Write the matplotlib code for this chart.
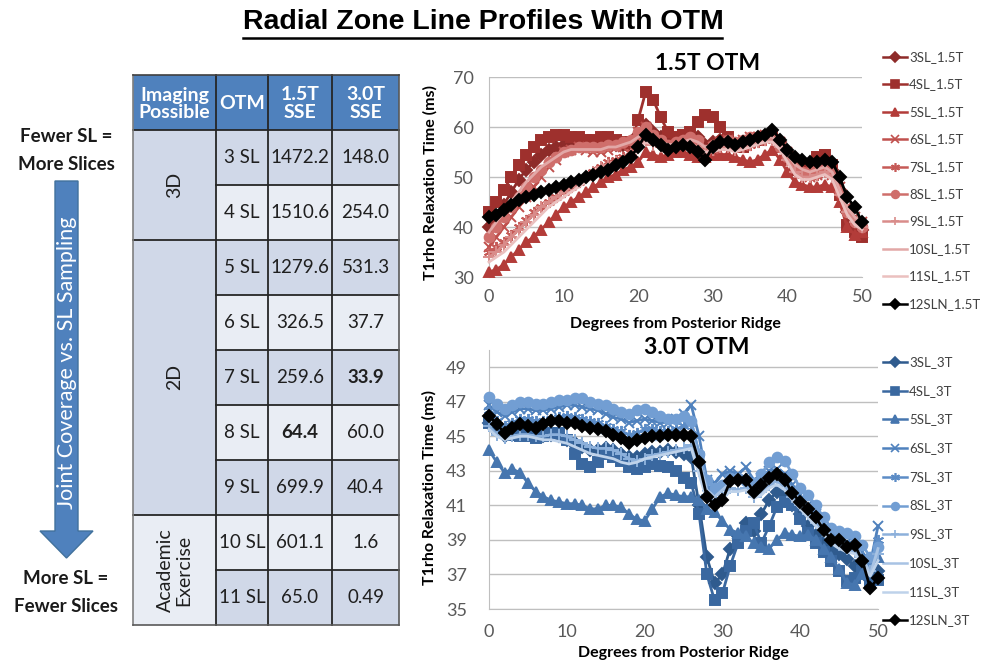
import matplotlib
matplotlib.use('Agg')
import matplotlib.pyplot as plt
from matplotlib.patches import Rectangle, FancyArrow

plt.rcParams['font.family'] = ['Lato', 'DejaVu Sans']

# ---------------- data ----------------
degrees = list(range(51))
x_ticks = [0, 10, 20, 30, 40, 50]
y_ticks_15 = [30, 40, 50, 60, 70]
y_ticks_30 = [35, 37, 39, 41, 43, 45, 47, 49]

names_15 = ['3SL_1.5T', '4SL_1.5T', '5SL_1.5T', '6SL_1.5T', '7SL_1.5T',
            '8SL_1.5T', '9SL_1.5T', '10SL_1.5T', '11SL_1.5T', '12SLN_1.5T']
names_30 = ['3SL_3T', '4SL_3T', '5SL_3T', '6SL_3T', '7SL_3T',
            '8SL_3T', '9SL_3T', '10SL_3T', '11SL_3T', '12SLN_3T']

t15_3SL = [40.0, 42.0, 44.5, 47.0, 49.5, 51.5, 53.0, 54.5, 55.5, 56.0, 56.5, 56.5, 56.5, 56.5, 56.5, 56.5, 57.0,
           56.5, 56.5, 57.0, 58.5, 60.5, 59.0, 58.0, 57.0, 57.5, 58.0, 58.5, 58.0, 56.5, 57.0, 57.5, 57.0, 56.5,
           56.5, 57.0, 57.5, 58.0, 58.5, 57.0, 55.0, 53.0, 52.0, 51.5, 52.0, 52.5, 51.5, 47.5, 43.0, 41.0, 39.5]
t15_4SL = [43.0, 45.0, 47.5, 50.0, 52.5, 54.5, 56.0, 57.5, 58.0, 58.5, 58.5, 58.0, 58.0, 57.5, 57.5, 58.0, 58.0,
           57.5, 57.0, 56.5, 61.5, 67.0, 65.5, 62.0, 59.0, 58.0, 58.5, 59.0, 61.0, 62.5, 62.0, 60.0, 58.0, 56.5,
           56.0, 57.0, 57.5, 58.0, 58.5, 56.0, 53.5, 51.5, 51.0, 52.5, 54.0, 54.5, 52.5, 46.5, 40.5, 39.0, 38.0]
t15_5SL = [31.0, 31.5, 32.5, 34.0, 35.5, 37.0, 38.0, 39.5, 41.0, 42.5, 44.0, 45.0, 46.0, 47.0, 48.0, 49.0, 50.0,
           50.5, 51.5, 52.0, 53.0, 55.0, 54.5, 54.0, 54.5, 55.0, 55.0, 54.5, 54.0, 54.0, 54.5, 54.5, 54.5, 54.0,
           53.5, 53.0, 53.5, 54.5, 55.5, 53.5, 51.0, 49.0, 48.5, 48.0, 48.0, 48.5, 48.0, 45.0, 40.0, 38.5, 39.0]
t15_6SL = [36.0, 38.0, 40.0, 42.0, 44.0, 46.0, 48.0, 50.0, 52.0, 53.5, 55.0, 55.5, 56.0, 55.5, 55.0, 55.0, 55.5,
           56.0, 56.0, 57.0, 59.0, 60.0, 58.0, 57.0, 56.0, 56.5, 57.0, 57.5, 57.0, 55.0, 56.0, 57.0, 57.5, 57.0,
           57.5, 58.0, 58.0, 58.5, 58.5, 57.0, 55.0, 52.0, 51.0, 50.0, 50.5, 51.0, 50.5, 48.0, 44.0, 42.0, 41.0]
t15_7SL = [35.0, 36.0, 37.0, 38.5, 40.0, 41.5, 43.0, 44.0, 45.0, 46.0, 47.0, 48.0, 49.0, 50.0, 51.0, 52.0, 53.0,
           53.5, 54.0, 55.0, 57.0, 59.0, 58.0, 57.0, 56.0, 56.5, 57.0, 57.0, 56.5, 55.0, 55.5, 56.0, 56.5, 56.0,
           56.0, 56.5, 57.0, 57.5, 58.0, 56.5, 54.0, 51.5, 50.5, 50.0, 50.5, 51.0, 50.5, 47.0, 43.0, 41.0, 40.0]
t15_8SL = [38.0, 40.0, 42.0, 44.0, 46.0, 48.0, 50.0, 51.5, 53.0, 54.0, 55.0, 55.5, 56.0, 56.0, 56.0, 56.0, 56.5,
           56.5, 57.0, 57.5, 59.0, 60.0, 58.5, 57.5, 56.5, 57.0, 57.5, 58.0, 57.5, 55.5, 56.5, 57.0, 57.5, 57.0,
           57.5, 58.0, 58.0, 58.5, 58.0, 56.0, 54.0, 52.0, 51.0, 51.0, 51.5, 52.0, 51.0, 47.0, 43.0, 41.0, 40.0]
t15_9SL = [34.0, 35.0, 36.5, 38.0, 39.5, 41.0, 42.5, 44.0, 45.0, 46.0, 47.0, 48.0, 49.0, 50.0, 51.0, 52.0, 52.5,
           53.0, 53.5, 54.5, 56.0, 57.5, 56.5, 56.0, 55.5, 56.0, 56.5, 56.5, 56.0, 55.0, 55.5, 56.0, 56.0, 55.5,
           56.0, 56.5, 57.0, 57.5, 57.5, 56.0, 53.5, 51.0, 50.0, 50.0, 50.5, 51.0, 50.0, 46.5, 43.0, 41.0, 40.0]
t15_10SL = [39.0, 41.0, 43.0, 45.0, 47.0, 49.0, 50.5, 52.0, 53.0, 54.0, 55.0, 55.5, 55.5, 55.5, 55.5, 55.5, 56.0,
            56.0, 56.5, 57.0, 58.0, 59.0, 58.0, 57.0, 56.5, 56.5, 57.0, 57.5, 57.0, 56.0, 56.5, 57.0, 57.0, 57.0,
            57.0, 57.5, 58.0, 58.0, 58.0, 56.5, 54.5, 52.5, 51.5, 51.0, 51.5, 52.0, 51.0, 47.5, 44.0, 42.0, 41.0]
t15_11SL = [33.0, 34.0, 35.0, 36.5, 38.0, 39.5, 41.0, 42.5, 44.0, 45.0, 46.0, 47.0, 48.0, 49.0, 50.0, 51.0, 52.0,
            52.5, 53.0, 54.0, 55.5, 57.0, 56.5, 56.0, 55.5, 55.5, 56.0, 56.0, 55.5, 55.0, 55.0, 55.5, 55.5, 55.0,
            55.5, 56.0, 56.5, 57.0, 57.0, 55.5, 53.0, 50.5, 49.5, 49.5, 50.0, 50.5, 49.5, 46.0, 42.5, 40.5, 39.5]
t15_12SLN = [42.0, 42.5, 43.5, 44.5, 45.5, 46.0, 46.5, 47.0, 47.5, 48.0, 48.5, 49.0, 49.5, 50.0, 50.5, 51.0, 51.5,
             52.5, 53.0, 54.0, 56.0, 58.5, 57.5, 56.5, 55.5, 56.0, 56.5, 56.0, 55.0, 53.5, 56.0, 57.0, 57.0, 56.5,
             57.0, 57.5, 58.0, 58.5, 59.5, 57.5, 55.5, 54.0, 53.5, 53.0, 53.0, 53.5, 53.0, 50.0, 46.0, 44.0, 41.0]

t30_3SL = [45.8, 45.3, 45.0, 45.2, 45.3, 45.2, 45.0, 45.0, 45.1, 45.0, 44.8, 44.6, 44.4, 44.2, 44.2, 44.3, 44.2,
           44.0, 43.8, 43.8, 44.0, 44.1, 44.1, 44.2, 44.1, 44.0, 43.8, 41.0, 38.0, 36.5, 37.0, 38.5, 39.2, 40.0,
           39.5, 40.5, 41.3, 41.8, 41.6, 41.0, 40.5, 39.8, 39.3, 38.9, 38.5, 38.2, 37.9, 37.5, 37.2, 36.7, 37.2]
t30_4SL = [45.8, 45.5, 45.2, 45.1, 45.0, 45.0, 44.9, 45.0, 45.2, 45.2, 44.8, 44.0, 43.4, 43.2, 43.5, 44.0, 43.8,
           43.6, 43.2, 43.1, 43.2, 43.4, 43.3, 43.2, 43.0, 42.6, 42.3, 40.5, 37.0, 35.5, 35.9, 37.5, 38.8, 39.5,
           40.0, 38.8, 39.8, 40.9, 41.2, 41.0, 40.2, 39.4, 38.8, 38.3, 37.8, 37.2, 36.6, 36.8, 37.2, 36.6, 36.7]
t30_5SL = [44.2, 43.5, 42.9, 43.1, 42.9, 42.3, 41.8, 41.5, 41.3, 41.2, 41.1, 41.1, 41.0, 40.8, 40.8, 41.0, 41.0,
           40.9, 40.5, 40.2, 40.1, 40.8, 41.5, 41.7, 41.6, 41.5, 41.5, 41.3, 40.8, 40.6, 40.1, 39.6, 39.4, 39.2,
           38.8, 38.6, 38.5, 39.0, 39.4, 39.3, 39.2, 39.3, 39.0, 38.5, 38.0, 37.3, 36.5, 36.4, 37.0, 37.8, 38.0]
t30_6SL = [46.8, 46.4, 46.2, 46.4, 46.6, 46.6, 46.5, 46.5, 46.6, 46.7, 46.8, 46.8, 46.7, 46.6, 46.5, 46.3, 46.1,
           46.0, 45.8, 45.9, 46.0, 45.9, 45.8, 45.8, 46.0, 46.3, 46.8, 45.0, 42.5, 42.3, 42.8, 43.0, 42.8, 43.2,
           42.5, 42.6, 43.0, 43.1, 42.8, 42.2, 41.6, 41.0, 40.5, 40.0, 39.4, 39.1, 38.9, 38.8, 38.3, 37.6, 39.8]
t30_7SL = [46.5, 45.9, 45.6, 45.8, 46.0, 46.0, 45.9, 45.9, 46.0, 46.1, 46.2, 46.1, 46.0, 45.9, 45.8, 45.6, 45.4,
           45.3, 45.1, 45.2, 45.4, 45.4, 45.3, 45.3, 45.4, 45.6, 45.8, 44.0, 42.0, 41.8, 42.2, 42.6, 42.5, 42.6,
           42.0, 42.3, 42.7, 42.9, 42.5, 41.9, 41.3, 40.8, 40.3, 39.7, 39.2, 38.9, 38.7, 38.6, 38.0, 37.4, 39.0]
t30_8SL = [47.3, 46.9, 46.6, 46.8, 47.0, 47.0, 46.9, 46.9, 47.0, 47.1, 47.1, 47.2, 47.2, 47.0, 46.9, 46.8, 46.6,
           46.4, 46.3, 46.5, 46.6, 46.4, 46.2, 46.0, 46.0, 46.2, 45.9, 44.0, 42.5, 42.0, 42.2, 42.6, 42.6, 42.4,
           42.3, 42.8, 43.5, 43.8, 43.6, 42.8, 42.0, 41.6, 41.0, 40.3, 39.7, 39.5, 39.4, 39.2, 38.7, 38.0, 38.6]
t30_9SL = [45.6, 45.1, 44.9, 45.0, 45.1, 45.1, 45.0, 45.0, 45.1, 45.1, 45.0, 44.8, 44.6, 44.4, 44.3, 44.3, 44.2,
           44.0, 43.7, 43.6, 43.7, 43.9, 44.0, 44.1, 44.2, 44.3, 44.5, 43.0, 41.6, 41.2, 41.6, 42.0, 41.9, 42.0,
           41.5, 41.8, 42.2, 42.4, 42.1, 41.5, 41.0, 40.5, 40.0, 39.5, 39.0, 38.7, 38.5, 38.3, 37.8, 37.2, 38.2]
t30_10SL = [46.0, 45.6, 45.3, 45.5, 45.7, 45.7, 45.6, 45.6, 45.7, 45.8, 45.8, 45.7, 45.6, 45.4, 45.3, 45.1, 44.9,
            44.8, 44.5, 44.6, 44.8, 44.8, 44.8, 44.9, 45.0, 45.1, 45.2, 43.6, 41.9, 41.5, 41.9, 42.3, 42.3, 42.4,
            41.9, 42.1, 42.5, 42.7, 42.4, 41.8, 41.3, 40.8, 40.3, 39.7, 39.2, 39.0, 38.7, 38.6, 38.0, 37.0, 38.5]
t30_11SL = [45.4, 45.0, 44.8, 44.9, 45.0, 45.0, 44.9, 44.8, 44.8, 44.7, 44.6, 44.4, 44.2, 44.0, 43.9, 43.8, 43.7,
            43.5, 43.4, 43.5, 43.7, 43.8, 43.9, 44.0, 44.1, 44.2, 44.3, 42.8, 41.3, 41.0, 41.4, 41.8, 41.8, 41.9,
            41.4, 41.6, 42.0, 42.2, 41.9, 41.3, 40.8, 40.3, 39.8, 39.3, 38.8, 38.5, 38.3, 38.2, 37.6, 36.9, 37.8]
t30_12SLN = [46.2, 45.7, 45.2, 45.5, 45.7, 45.6, 45.5, 45.7, 45.9, 45.9, 45.8, 45.8, 45.6, 45.5, 45.4, 45.3, 45.1,
             44.9, 44.6, 44.8, 44.9, 45.0, 45.0, 45.1, 45.1, 45.1, 45.0, 43.5, 41.5, 41.0, 41.3, 42.4, 42.5, 42.5,
             41.8, 42.2, 42.6, 42.8, 42.5, 41.7, 41.2, 40.8, 40.3, 39.6, 39.0, 39.0, 38.6, 38.7, 37.8, 36.2, 36.8]

series_15 = [t15_3SL, t15_4SL, t15_5SL, t15_6SL, t15_7SL, t15_8SL, t15_9SL, t15_10SL, t15_11SL, t15_12SLN]
series_30 = [t30_3SL, t30_4SL, t30_5SL, t30_6SL, t30_7SL, t30_8SL, t30_9SL, t30_10SL, t30_11SL, t30_12SLN]

# table
imaging_groups = ['3D', '2D', 'Academic\nExercise']
imaging_spans = [2, 5, 2]
otm_labels = ['3 SL', '4 SL', '5 SL', '6 SL', '7 SL', '8 SL', '9 SL', '10 SL', '11 SL']
sse_15 = ['1472.2', '1510.6', '1279.6', '326.5', '259.6', '64.4', '699.9', '601.1', '65.0']
sse_30 = ['148.0', '254.0', '531.3', '37.7', '33.9', '60.0', '40.4', '1.6', '0.49']
header_labels = ['Imaging\nPossible', 'OTM', '1.5T\nSSE', '3.0T\nSSE']
bold_15 = [False, False, False, False, False, True, False, False, False]
bold_30 = [False, False, False, False, True, False, False, False, False]

# ---------------- styles ----------------
reds = ['#8E2B29', '#9E302D', '#B33C39', '#C0504D', '#C65A57', '#CF6E6B', '#D98C8A', '#E2A8A7', '#EBC0BF', '#000000']
blues = ['#2F5B8E', '#3A68A0', '#4676AF', '#4F81BD', '#5C8CC6', '#729ED3', '#8CB0DB', '#A8C3E4', '#BED2EA', '#000000']
markers = ['D', 's', '^', 'x', (6, 2, 0), 'o', '+', None, None, 'D']
msizes = [6, 7, 7, 7, 8, 7, 8, 0, 0, 6]

fig = plt.figure(figsize=(9.88, 6.65), dpi=100)
ov = fig.add_axes([0, 0, 1, 1])
ov.set_xlim(0, 988)
ov.set_ylim(665, 0)
ov.axis('off')

# title
ov.text(483, 22, 'Radial Zone Line Profiles With OTM', ha='center', va='center',
        fontsize=20.5, fontweight='bold', family=['Liberation Sans Narrow', 'Liberation Sans', 'DejaVu Sans'])
ov.plot([243, 722], [38, 38], color='black', lw=1.8)

# left side texts + arrow
ov.text(66, 137, 'Fewer SL =', ha='center', va='center', fontsize=13.5, fontweight='bold', color='#1a1a1a')
ov.text(66, 164, 'More Slices', ha='center', va='center', fontsize=13.5, fontweight='bold', color='#1a1a1a')
ov.text(66, 579, 'More SL =', ha='center', va='center', fontsize=13.5, fontweight='bold', color='#1a1a1a')
ov.text(66, 607, 'Fewer Slices', ha='center', va='center', fontsize=13.5, fontweight='bold', color='#1a1a1a')
ov.add_patch(FancyArrow(66.5, 181, 0, 377, width=23, head_width=53, head_length=27,
                        length_includes_head=True, fc='#4F81BD', ec='#41719C', lw=1))
ov.text(67, 363, 'Joint Coverage vs. SL Sampling', rotation=90, ha='center', va='center',
        fontsize=15.5, color='white')

# table
cx = [133, 216, 268, 332, 399]
top, hbot, rh = 75, 130, 55.0
dark, light = '#D0D8E8', '#E9EDF4'
line_c = '#262626'
ov.add_patch(Rectangle((cx[0], top), cx[-1] - cx[0], hbot - top, fc='#4F81BD', ec='none'))
for j, lab in enumerate(header_labels):
    ov.text((cx[j] + cx[j + 1]) / 2, (top + hbot) / 2 + 1, lab, ha='center', va='center',
            color='white', fontweight='bold', fontsize=14, linespacing=1.0)
for i in range(len(otm_labels)):
    y0 = hbot + i * rh
    fc = dark if i % 2 == 0 else light
    ov.add_patch(Rectangle((cx[1], y0), cx[-1] - cx[1], rh, fc=fc, ec='none'))
    yc = y0 + rh / 2
    ov.text((cx[1] + cx[2]) / 2, yc, otm_labels[i], ha='center', va='center', fontsize=13.5, color='#1f1f1f')
    ov.text((cx[2] + cx[3]) / 2, yc, sse_15[i], ha='center', va='center', fontsize=13.5, color='#1f1f1f',
            fontweight='bold' if bold_15[i] else 'normal')
    ov.text((cx[3] + cx[4]) / 2, yc, sse_30[i], ha='center', va='center', fontsize=13.5, color='#1f1f1f',
            fontweight='bold' if bold_30[i] else 'normal')
    ov.plot([cx[1], cx[-1]], [y0, y0], color=line_c, lw=1.3)
start = 0
group_fc = [dark, dark, light]
for g, span in enumerate(imaging_spans):
    y0 = hbot + start * rh
    ov.add_patch(Rectangle((cx[0], y0), cx[1] - cx[0], span * rh, fc=group_fc[g], ec='none'))
    ov.text((cx[0] + cx[1]) / 2, y0 + span * rh / 2, imaging_groups[g], rotation=90, ha='center',
            va='center', fontsize=14, color='#1f1f1f', linespacing=1.05)
    ov.plot([cx[0], cx[1]], [y0, y0], color=line_c, lw=1.3)
    start += span
bot = hbot + len(otm_labels) * rh
for xv in cx[1:-1]:
    ov.plot([xv, xv], [top, bot], color=line_c, lw=1.3)
ov.plot([cx[0], cx[0]], [top, bot], color='#7f7f7f', lw=1.2)
ov.plot([cx[-1], cx[-1]], [top, bot], color='#595959', lw=1.2)
ov.plot([cx[0], cx[-1]], [top, top], color='#404040', lw=1.2)
ov.plot([cx[0], cx[-1]], [bot, bot], color='#595959', lw=1.2)


def style_axes(ax, yt, ypad, xpad, xlpad):
    ax.set_facecolor('none')
    ax.set_xlim(0, 50)
    ax.set_xticks(x_ticks)
    ax.set_yticks(yt)
    ax.grid(axis='y', color='#BFBFBF', lw=1)
    ax.set_axisbelow(True)
    for s in ['top', 'right']:
        ax.spines[s].set_visible(False)
    ax.spines['left'].set_color('#BFBFBF')
    ax.spines['bottom'].set_color('#BFBFBF')
    ax.tick_params(axis='y', length=0, labelsize=13, labelcolor='#595959', pad=ypad)
    ax.tick_params(axis='x', length=0, labelsize=13, labelcolor='#595959', pad=xpad)
    ax.set_xlabel('Degrees from Posterior Ridge', fontsize=11.5, fontweight='bold', labelpad=xlpad)
    ax.set_ylabel('T1rho Relaxation Time (ms)', fontsize=11.5, fontweight='bold')


def draw_series(ax, data, colors):
    for k, vals in enumerate(data):
        ax.plot(degrees, vals, color=colors[k], lw=2.0, marker=markers[k], ms=msizes[k],
                mfc=colors[k], mec=colors[k], mew=1.4, clip_on=False, zorder=3 + (k == 9))


# top chart
ax1 = fig.add_axes([489 / 988, 1 - 277 / 665, 373 / 988, 200 / 665])
draw_series(ax1, series_15, reds)
ax1.set_ylim(30, 70)
style_axes(ax1, y_ticks_15, 11, 9, 8)
ax1.yaxis.set_label_coords(-0.139, 0.47)
ov.text(708, 64, '1.5T OTM', ha='center', va='center', fontsize=16.5, fontweight='bold')

# bottom chart
ax2 = fig.add_axes([489 / 988, 1 - 609 / 665, 389 / 988, 259 / 665])
draw_series(ax2, series_30, blues)
ax2.set_ylim(35, 50)
style_axes(ax2, y_ticks_30, 16, 11, 4)
ax2.yaxis.set_label_coords(-0.134, 0.47)
ov.text(697, 347, '3.0T OTM', ha='center', va='center', fontsize=16.5, fontweight='bold')

# legends (drawn from the same style lists)
def draw_legend(names, colors, y_first, step):
    for k, nm in enumerate(names):
        y = y_first + k * step
        ov.plot([883, 907], [y, y], color=colors[k], lw=1.8)
        if markers[k] is not None:
            ov.plot([895], [y], color=colors[k], marker=markers[k], ms=msizes[k] * 0.8,
                    mfc=colors[k], mec=colors[k], mew=1.2)
        ov.text(909, y, nm, ha='left', va='center', fontsize=9.5, color='#404040')


draw_legend(names_15, reds, 57, 27.4)
draw_legend(names_30, blues, 362, 28.7)

fig.savefig('out.png', dpi=100)
